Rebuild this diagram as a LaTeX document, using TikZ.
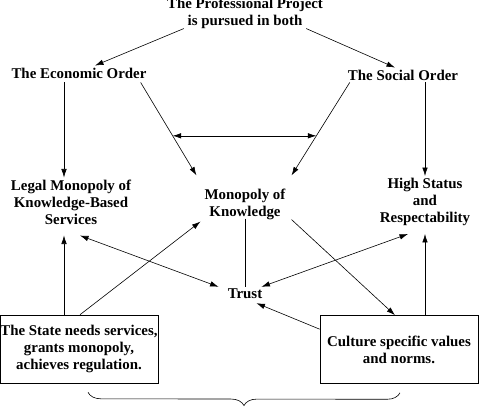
\documentclass[tikz,border=0pt]{standalone}
\usepackage{fontspec}
\setmainfont{Liberation Serif}
\usetikzlibrary{arrows.meta,decorations.pathreplacing}

\begin{document}
\begin{tikzpicture}[x=1pt, y=-1pt, >={Latex[length=8.5pt,width=5.5pt]},
  lbl/.style={font=\bfseries\fontsize{14.9}{17}\selectfont, align=center, inner sep=2pt},
  box/.style={lbl, draw, line width=0.6pt, inner xsep=0pt, minimum width=158pt, minimum height=68pt},
  link/.style={line width=0.6pt}]

\useasboundingbox (0,0) rectangle (479,410);

% Top of the diagram
\node[lbl] (proj) at (245,13) {The Professional Project\\is pursued in both};
\node[lbl] (econ) at (79,73) {The Economic Order};
\node[lbl] (social) at (403,75) {The Social Order};

% Middle row
\node[lbl] (legal) at (71,202) {Legal Monopoly of\\Knowledge-Based\\Services};
\node[lbl] (monok) at (245,204) {Monopoly of\\Knowledge};
\node[lbl] (high) at (425,202) {High Status\\and\\Respectability};
\node[lbl] (trust) at (245,294) {Trust};

% Boxes
\node[box] (state) at (79,349) {The State needs services,\\grants monopoly,\\achieves regulation.};
\node[box] (culture) at (399,349.5) {Culture specific values\\and norms.};

% From the project to the two orders
\draw[link,->] ([xshift=19pt,yshift=2pt]proj.south west) -- ([xshift=16pt]econ.north);
\draw[link,->] ([xshift=-19pt,yshift=2pt]proj.south east) -- ([xshift=-8pt]social.north);

% Orders down to the middle row
\draw[link,->] ([xshift=-15pt,yshift=-2pt]econ.south) -- ([xshift=-7pt]legal.north);
\draw[link,->] ([xshift=-8pt,yshift=-2pt]econ.south east) -- coordinate[pos=0.574] (ecmid) ([xshift=-6pt,yshift=11pt]monok.north west);
\draw[link,->] ([xshift=4pt]social.south west) -- coordinate[pos=0.574] (somid) ([xshift=4pt,yshift=11pt]monok.north east);
\draw[link,->] ([xshift=22pt]social.south) -- (high.north);

% Link between the two orders
\draw[link,<->] (ecmid) -- (somid);

% Boxes up to the middle row
\draw[link,->] ([xshift=-15pt]state.north) -- ([xshift=-7pt,yshift=-9pt]legal.south);
\draw[link,->] ([xshift=1pt]state.north) -- ([xshift=-2pt]monok.south west);
\draw[link,->] ([xshift=26pt]culture.north) -- ([yshift=-6pt]high.south);
\draw[link,->] ([xshift=4pt,yshift=2pt]monok.south east) -- ([xshift=-4pt]culture.north);

% Trust in the centre
\draw[link,<->] ([xshift=9pt,yshift=-9pt]legal.south) -- ([xshift=-7pt]trust.north west);
\draw[link,<->] ([xshift=-17pt,yshift=-6pt]high.south) -- ([xshift=-3pt]trust.north east);
\draw[link] ([yshift=3pt]monok.south) -- (trust.north);
\draw[link,->] ([yshift=-14pt]culture.north west) -- ([xshift=-8pt,yshift=-2pt]trust.south east);

% Brace under the boxes
\draw[link,decorate,decoration={brace,mirror,amplitude=13pt}] ([xshift=9pt,yshift=-9pt]state.south) -- ([xshift=1pt,yshift=-9pt]culture.south);

\end{tikzpicture}
\end{document}
